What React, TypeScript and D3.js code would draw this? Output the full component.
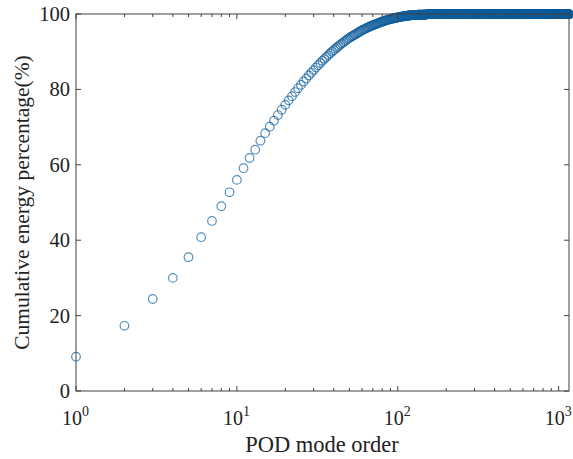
import React from "react";
import * as d3 from "d3";

// cumulative energy (%), modes 1..150
const headValues = [
  9.1, 17.3, 24.4, 30.0, 35.5, 40.8, 45.1, 49.0, 52.7, 56.0,
  59.1, 61.8, 64.0, 66.4, 68.4, 70.1, 71.7, 73.2, 74.6, 75.9,
  77.1, 78.2, 79.3, 80.3, 81.2, 82.1, 82.9, 83.7, 84.4, 85.1,
  85.8, 86.4, 87.0, 87.6, 88.1, 88.6, 89.1, 89.6, 90.0, 90.4,
  90.8, 91.2, 91.5, 91.9, 92.2, 92.5, 92.8, 93.1, 93.4, 93.6,
  93.9, 94.1, 94.3, 94.5, 94.7, 94.9, 95.1, 95.3, 95.5, 95.7,
  95.8, 96.0, 96.1, 96.3, 96.4, 96.5, 96.7, 96.8, 96.9, 97.0,
  97.1, 97.2, 97.3, 97.4, 97.5, 97.6, 97.7, 97.8, 97.9, 98.0,
  98.0, 98.1, 98.2, 98.3, 98.3, 98.4, 98.5, 98.5, 98.6, 98.6,
  98.7, 98.7, 98.8, 98.8, 98.9, 98.9, 99.0, 99.0, 99.0, 99.1,
  99.1, 99.2, 99.2, 99.2, 99.3, 99.3, 99.3, 99.4, 99.4, 99.4,
  99.4, 99.5, 99.5, 99.5, 99.5, 99.6, 99.6, 99.6, 99.6, 99.6,
  99.7, 99.7, 99.7, 99.7, 99.7, 99.7, 99.7, 99.7, 99.7, 99.7,
  99.7, 99.7, 99.7, 99.8, 99.8, 99.8, 99.8, 99.8, 99.8, 99.8,
  99.8, 99.8, 99.8, 99.8, 99.8, 99.8, 99.8, 99.8, 99.8, 99.8,
];
// after mode 150 every point sits on the 100% line up to the last mode
const plateauValue = 99.95;
const lastMode = 1160;

const yTicks = [0, 20, 40, 60, 80, 100];
const xDecades = [0, 1, 2, 3];

const points = d3.range(1, lastMode + 1).map((n) => ({
  n,
  v: n <= headValues.length ? headValues[n - 1] : plateauValue,
}));

const width = 573;
const height = 459;
const margin = { top: 14, right: 4, bottom: 68, left: 76 };

export default function App() {
  const x = d3
    .scaleLog()
    .domain([1, lastMode])
    .range([margin.left, width - margin.right]);
  const y = d3
    .scaleLinear()
    .domain([0, 100])
    .range([height - margin.bottom, margin.top]);

  const x0 = margin.left;
  const x1 = width - margin.right;
  const y0 = height - margin.bottom;
  const y1 = margin.top;

  const minorTicks: number[] = [];
  for (let d = 0; d < 4; d++) {
    for (let k = 2; k <= 9; k++) {
      const v = k * Math.pow(10, d);
      if (v < lastMode) minorTicks.push(v);
    }
  }

  const axisColor = "#404040";
  const font = "'Liberation Serif', 'Times New Roman', serif";

  return (
    <svg width={width} height={height} style={{ position: "absolute", left: 0, top: 0, background: "#fff" }}>
      <rect x={0} y={0} width={width} height={height} fill="#fff" />
      {/* markers */}
      <g fill="none" stroke="#0f5e9c" strokeWidth={1.2} strokeOpacity={0.7}>
        {points.map((p) => (
          <circle key={p.n} cx={x(p.n)} cy={y(p.v)} r={4.3} />
        ))}
      </g>
      {/* box */}
      <rect x={x0} y={y1} width={x1 - x0} height={y0 - y1} fill="none" stroke={axisColor} strokeWidth={1} />
      {/* ticks */}
      <g stroke={axisColor} strokeWidth={1}>
        {yTicks.map((t) => (
          <g key={t}>
            <line x1={x0} x2={x0 + 5} y1={y(t)} y2={y(t)} />
            <line x1={x1} x2={x1 - 5} y1={y(t)} y2={y(t)} />
          </g>
        ))}
        {xDecades.map((d) => (
          <g key={d}>
            <line x1={x(Math.pow(10, d))} x2={x(Math.pow(10, d))} y1={y0} y2={y0 - 5} />
            <line x1={x(Math.pow(10, d))} x2={x(Math.pow(10, d))} y1={y1} y2={y1 + 5} />
          </g>
        ))}
        {minorTicks.map((t) => (
          <g key={t}>
            <line x1={x(t)} x2={x(t)} y1={y0} y2={y0 - 3} />
            <line x1={x(t)} x2={x(t)} y1={y1} y2={y1 + 3} />
          </g>
        ))}
      </g>
      {/* y tick labels */}
      <g fontFamily={font} fontSize={20.5} fill="#222" textAnchor="end">
        {yTicks.map((t) => (
          <text key={t} x={x0 - 6} y={y(t) + 7}>
            {t}
          </text>
        ))}
      </g>
      {/* x tick labels */}
      <g fontFamily={font} fontSize={20} fill="#222">
        {xDecades.map((d) => (
          <text key={d} x={x(Math.pow(10, d)) - 14} y={y0 + 34}>
            10
            <tspan dy={-9} fontSize={14}>
              {d}
            </tspan>
          </text>
        ))}
      </g>
      <text
        x={322}
        y={452}
        textAnchor="middle"
        fontFamily={font}
        fontSize={22.5}
        fill="#222"
      >
        POD mode order
      </text>
      <text
        transform={`translate(29,${(y0 + y1) / 2}) rotate(-90)`}
        textAnchor="middle"
        fontFamily={font}
        fontSize={21.5}
        fill="#222"
      >
        Cumulative energy percentage(%)
      </text>
    </svg>
  );
}
